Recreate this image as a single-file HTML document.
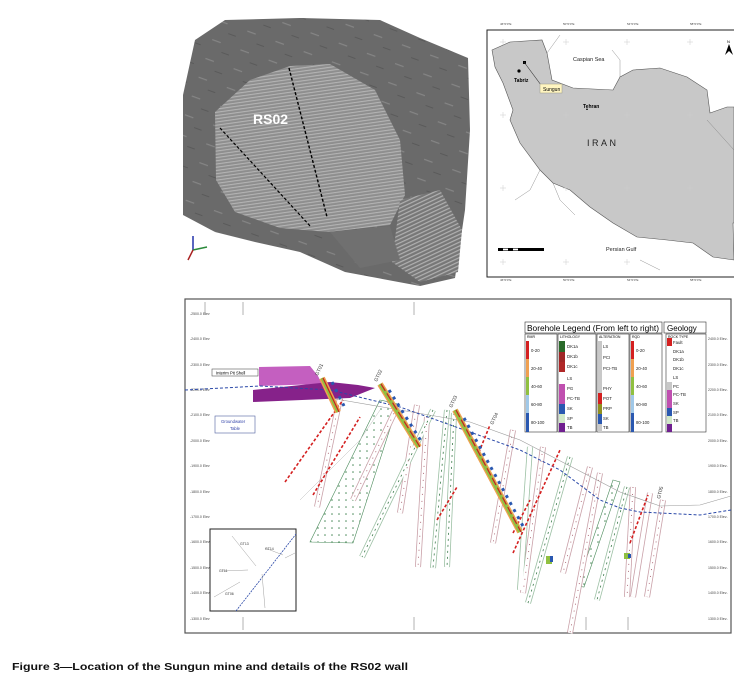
<!DOCTYPE html>
<html><head><meta charset="utf-8"><style>
html,body{margin:0;padding:0;background:#fff;width:734px;height:681px;overflow:hidden}
svg{display:block}
text{font-family:"Liberation Sans",sans-serif}
</style></head><body>
<svg width="734" height="681" viewBox="0 0 734 681" xmlns="http://www.w3.org/2000/svg">
<defs>
<pattern id="str" width="6" height="3.2" patternUnits="userSpaceOnUse" patternTransform="rotate(-8)">
<rect width="6" height="3.2" fill="#8e8e8e"/><rect y="0" width="6" height="1.1" fill="#b4b4b4"/></pattern>
<pattern id="str2" width="6" height="3.5" patternUnits="userSpaceOnUse" patternTransform="rotate(-25)">
<rect width="6" height="3.5" fill="#777"/><rect width="6" height="1.2" fill="#b0b0b0"/></pattern>
<pattern id="dots" width="7" height="7" patternUnits="userSpaceOnUse">
<circle cx="3" cy="3" r="0.8" fill="#4a8a5a"/></pattern>
<pattern id="rough" width="30" height="20" patternUnits="userSpaceOnUse" patternTransform="rotate(20)">
<rect width="30" height="20" fill="#6a6a6a"/><rect x="3" y="4" width="9" height="1.2" fill="#858585"/><rect x="16" y="13" width="8" height="1" fill="#5a5a5a"/></pattern>
</defs>

<!-- 3D pit -->
<polygon points="183,95 195,40 225,20 300,18 380,20 420,38 468,58 470,130 465,210 455,278 420,286 345,272 300,252 255,242 215,232 183,215" fill="url(#rough)"/>
<polygon points="215,112 250,80 290,66 330,64 375,90 400,140 405,195 390,225 328,232 280,228 235,212 216,180" fill="url(#str)"/>
<polygon points="400,200 440,190 462,230 458,272 420,282 392,262" fill="url(#str2)"/>
<polygon points="330,232 390,226 400,260 360,268" fill="#707070"/>
<line x1="289" y1="68" x2="327" y2="217" stroke="#000" stroke-width="1.4" stroke-dasharray="3,2"/>
<line x1="220" y1="128" x2="311" y2="227" stroke="#000" stroke-width="1.2" stroke-dasharray="3,2"/>
<text x="253" y="124" fill="#fff" font-size="14" font-weight="bold">RS02</text>
<line x1="193" y1="250" x2="193" y2="236" stroke="#2233aa" stroke-width="1.5"/>
<line x1="193" y1="250" x2="207" y2="247" stroke="#2a8a3a" stroke-width="1.5"/>
<line x1="193" y1="250" x2="188" y2="260" stroke="#aa2222" stroke-width="1.5"/>

<!-- Map -->
<rect x="487" y="30" width="250" height="247" fill="#fff" stroke="#222" stroke-width="1"/>
<path d="M492,50 L510,42 L542,40 L547,53 L552,80 L573,88 L613,90 L620,77 L633,70 L660,68 L687,77 L707,90 L710,113 L727,107 L734,107 L734,223 L733,223 L734,260 L713,257 L693,243 L667,240 L637,237 L613,223 L590,207 L570,190 L553,183 L540,170 L520,143 L510,120 L513,110 L503,83 L495,67 Z" fill="#c8c8c8" stroke="#555" stroke-width="0.6"/>
<path d="M547,53 L560,35 M620,77 L620,60 L612,50 M707,120 L734,150 M540,170 L530,190 L515,200 M553,183 L560,200 L575,215 M640,260 L660,270" stroke="#777" stroke-width="0.4" fill="none"/>
<g stroke="#ccc" stroke-width="0.5">
<path d="M500,42h6M503,39v6M563,42h6M566,39v6M624,42h6M627,39v6M687,42h6M690,39v6M500,115h6M503,112v6M563,115h6M566,112v6M624,115h6M627,112v6M687,115h6M690,112v6M500,188h6M503,185v6M563,188h6M566,185v6M624,188h6M627,185v6M687,188h6M690,185v6M500,262h6M503,259v6M563,262h6M566,259v6M624,262h6M627,259v6"/></g>
<text x="573" y="61" font-size="5.5" fill="#222">Caspian Sea</text>
<text x="606" y="251" font-size="5.5" fill="#222">Persian Gulf</text>
<text x="587" y="146" font-size="9" fill="#222" letter-spacing="2.5">IRAN</text>
<circle cx="519" cy="71" r="1.6" fill="#000"/>
<text x="514" y="82" font-size="5" font-weight="bold" font-family="Liberation Serif">Tabriz</text>
<text x="583" y="108" font-size="5" font-weight="bold" font-family="Liberation Serif">Tehran</text>
<polygon points="586,110 588,110 587,108" fill="#000"/>
<rect x="523" y="61" width="3" height="3" fill="#000"/>
<line x1="524" y1="62" x2="541" y2="85" stroke="#333" stroke-width="0.6"/>
<rect x="540" y="84" width="22" height="9" fill="#fff5c0" stroke="#998" stroke-width="0.5"/>
<text x="543" y="91" font-size="5">Sungun</text>
<polygon points="725,55 729,44 733,55 729,51" fill="#000"/>
<text x="727" y="43" font-size="4">N</text>
<rect x="498" y="248" width="46" height="3" fill="#000"/>
<rect x="503" y="248.6" width="5" height="1.8" fill="#fff"/><rect x="513" y="248.6" width="5" height="1.8" fill="#fff"/>
<g font-size="3" fill="#444"><text x="500" y="25">46°0'0"E</text><text x="563" y="25">50°0'0"E</text><text x="627" y="25">54°0'0"E</text><text x="690" y="25">58°0'0"E</text>
<text x="500" y="281">46°0'0"E</text><text x="563" y="281">50°0'0"E</text><text x="627" y="281">54°0'0"E</text><text x="690" y="281">58°0'0"E</text></g>

<!-- Section frame -->
<rect x="185" y="299" width="546" height="334" fill="#fff" stroke="#555" stroke-width="1.2"/>
<g font-size="3.5" fill="#444">
<text x="190" y="315">-2500.0 Elev</text><text x="190" y="340">-2400.0 Elev</text><text x="190" y="366">-2300.0 Elev</text><text x="190" y="391">-2200.0 Elev</text><text x="190" y="416">-2100.0 Elev</text><text x="190" y="442">-2000.0 Elev</text><text x="190" y="467">-1900.0 Elev</text><text x="190" y="493">-1800.0 Elev</text><text x="190" y="518">-1700.0 Elev</text><text x="190" y="543">-1600.0 Elev</text><text x="190" y="569">-1500.0 Elev</text><text x="190" y="594">-1400.0 Elev</text><text x="190" y="620">-1300.0 Elev</text>
<text x="708" y="340">2400.0 Elev-</text><text x="708" y="366">2300.0 Elev-</text><text x="708" y="391">2200.0 Elev-</text><text x="708" y="416">2100.0 Elev-</text><text x="708" y="442">2000.0 Elev-</text><text x="708" y="467">1900.0 Elev-</text><text x="708" y="493">1800.0 Elev-</text><text x="708" y="518">1700.0 Elev-</text><text x="708" y="543">1600.0 Elev-</text><text x="708" y="569">1500.0 Elev-</text><text x="708" y="594">1400.0 Elev-</text><text x="708" y="620">1300.0 Elev-</text>
</g>
<g stroke="#666" stroke-width="0.5"><line x1="205" y1="302" x2="205" y2="315"/><line x1="243" y1="302" x2="243" y2="315"/><line x1="414" y1="302" x2="414" y2="315"/><line x1="243" y1="617" x2="243" y2="630"/><line x1="414" y1="617" x2="414" y2="630"/><line x1="586" y1="617" x2="586" y2="630"/><line x1="628" y1="617" x2="628" y2="630"/></g>

<!-- dotted wide zone -->
<polygon points="380,400 398,404 353,543 310,542" fill="url(#dots)" stroke="#4a8a5a" stroke-width="0.6"/>
<polygon points="613,480 620,482 584,587 577,586" fill="url(#dots)" stroke="#4a8a5a" stroke-width="0.6"/>

<!-- boreholes -->
<g fill="none" stroke-linecap="butt">
<g stroke="#c9a0a8" stroke-width="6">
<line x1="340" y1="398" x2="317" y2="507"/><line x1="397" y1="407" x2="353" y2="500"/><line x1="417" y1="405" x2="400" y2="513"/><line x1="427" y1="417" x2="418" y2="567"/><line x1="513" y1="430" x2="493" y2="543"/><line x1="543" y1="447" x2="523" y2="593"/><line x1="590" y1="467" x2="563" y2="573"/><line x1="600" y1="473" x2="570" y2="633"/><line x1="633" y1="487" x2="627" y2="597"/><line x1="663" y1="500" x2="647" y2="597"/><line x1="650" y1="493" x2="633" y2="597"/>
</g>
<g stroke="#9cc0a4" stroke-width="6">
<line x1="433" y1="410" x2="362" y2="557"/><line x1="447" y1="410" x2="433" y2="568"/><line x1="454" y1="413" x2="447" y2="567"/><line x1="530" y1="447" x2="520" y2="590"/><line x1="570" y1="457" x2="528" y2="603"/><line x1="627" y1="487" x2="597" y2="600"/>
</g>
<g stroke="#fff" stroke-width="4.4">
<line x1="340" y1="398" x2="317" y2="507"/><line x1="397" y1="407" x2="353" y2="500"/><line x1="417" y1="405" x2="400" y2="513"/><line x1="427" y1="417" x2="418" y2="567"/><line x1="513" y1="430" x2="493" y2="543"/><line x1="543" y1="447" x2="523" y2="593"/><line x1="590" y1="467" x2="563" y2="573"/><line x1="600" y1="473" x2="570" y2="633"/><line x1="633" y1="487" x2="627" y2="597"/><line x1="663" y1="500" x2="647" y2="597"/><line x1="650" y1="493" x2="633" y2="597"/>
<line x1="433" y1="410" x2="362" y2="557"/><line x1="447" y1="410" x2="433" y2="568"/><line x1="454" y1="413" x2="447" y2="567"/><line x1="530" y1="447" x2="520" y2="590"/><line x1="570" y1="457" x2="528" y2="603"/><line x1="627" y1="487" x2="597" y2="600"/>
</g>
<g stroke="#a05060" stroke-width="0.8" stroke-dasharray="1,6">
<line x1="340" y1="398" x2="317" y2="507"/><line x1="397" y1="407" x2="353" y2="500"/><line x1="417" y1="405" x2="400" y2="513"/><line x1="427" y1="417" x2="418" y2="567"/><line x1="513" y1="430" x2="493" y2="543"/><line x1="543" y1="447" x2="523" y2="593"/><line x1="590" y1="467" x2="563" y2="573"/><line x1="600" y1="473" x2="570" y2="633"/><line x1="633" y1="487" x2="627" y2="597"/><line x1="663" y1="500" x2="647" y2="597"/>
</g>
<g stroke="#3a7a4a" stroke-width="0.8" stroke-dasharray="2,4">
<line x1="433" y1="410" x2="362" y2="557"/><line x1="447" y1="410" x2="433" y2="568"/><line x1="454" y1="413" x2="447" y2="567"/><line x1="570" y1="457" x2="528" y2="603"/><line x1="627" y1="487" x2="597" y2="600"/>
</g>
</g>

<!-- terrain -->
<polyline points="330,398 400,410 470,422 520,440 570,466 620,492 660,506 700,505 731,496" fill="none" stroke="#999" stroke-width="0.6"/>
<polyline points="380,410 360,440 330,470 300,500" fill="none" stroke="#bbb" stroke-width="0.5"/>

<!-- pit shell -->
<polygon points="259,367 310,366 318,376 322,384 259,386" fill="#c45fc0"/>
<polygon points="253,390 330,382 358,385 375,388 350,398 253,402" fill="#86228a"/>
<rect x="212" y="369" width="46" height="7" fill="#fff" stroke="#555" stroke-width="0.6"/>
<text x="216" y="374.5" font-size="4.2">Interim Pit Shell</text>
<rect x="215" y="416" width="40" height="17" fill="#fff" stroke="#5060a0" stroke-width="0.6"/>
<text x="221" y="423" font-size="4.2" fill="#3344aa">Groundwater</text>
<text x="230" y="430" font-size="4.2" fill="#3344aa">Table</text>

<!-- groundwater -->
<polyline points="185,390 260,386 330,390 400,407 470,432 520,450 560,470 600,500 620,508 640,512 700,515 731,510" fill="none" stroke="#2a48a8" stroke-width="1" stroke-dasharray="3,2"/>

<!-- red dashed -->
<g stroke="#d42020" stroke-width="1.6" stroke-dasharray="3,2">
<line x1="285" y1="482" x2="343" y2="400"/><line x1="313" y1="495" x2="360" y2="417"/><line x1="437" y1="520" x2="457" y2="487"/><line x1="513" y1="553" x2="560" y2="450"/><line x1="630" y1="543" x2="648" y2="495"/><line x1="477" y1="457" x2="490" y2="425"/><line x1="513" y1="533" x2="530" y2="500"/>
</g>

<!-- colored boreholes -->
<g stroke-linecap="butt">
<line x1="322" y1="378" x2="338" y2="412" stroke="#f0a050" stroke-width="6"/>
<line x1="322" y1="378" x2="338" y2="412" stroke="#90c040" stroke-width="3"/>
<line x1="323" y1="378" x2="339" y2="412" stroke="#c82020" stroke-width="1.2"/>
<line x1="380" y1="384" x2="419" y2="447" stroke="#f0a050" stroke-width="6"/>
<line x1="380" y1="384" x2="419" y2="447" stroke="#90c040" stroke-width="3.5"/>
<line x1="381" y1="384" x2="420" y2="447" stroke="#c82020" stroke-width="1.2" stroke-dasharray="8,3"/>
<line x1="455" y1="410" x2="520" y2="532" stroke="#f0a050" stroke-width="6"/>
<line x1="455" y1="410" x2="520" y2="532" stroke="#90c040" stroke-width="3.5"/>
<line x1="456" y1="410" x2="521" y2="532" stroke="#c82020" stroke-width="1.2" stroke-dasharray="8,3"/>
<g stroke="#2a58b0" stroke-width="3" stroke-dasharray="3,5">
<line x1="332" y1="382" x2="344" y2="406"/><line x1="389" y1="390" x2="421" y2="441"/><line x1="464" y1="418" x2="524" y2="528"/></g>
<rect x="546" y="556" width="6" height="8" fill="#90c040"/><rect x="550" y="556" width="3" height="6" fill="#2a58b0"/>
<rect x="624" y="553" width="6" height="6" fill="#90c040"/><rect x="628" y="554" width="3" height="4" fill="#2a58b0"/>
</g>
<g font-size="5" fill="#333">
<text transform="translate(318,376) rotate(-65)">GT01</text>
<text transform="translate(377,382) rotate(-65)">GT02</text>
<text transform="translate(452,408) rotate(-65)">GT03</text>
<text transform="translate(493,425) rotate(-65)">GT04</text>
<text transform="translate(660,499) rotate(-75)">GT05</text>
</g>

<!-- legend -->
<rect x="525" y="322" width="182" height="112" fill="#fff"/>
<g stroke="#333" stroke-width="0.6" fill="none">
<rect x="525" y="322" width="137" height="11"/><rect x="664" y="322" width="42" height="11"/>
<rect x="525" y="334" width="32" height="98"/><rect x="558" y="334" width="38" height="98"/><rect x="597" y="334" width="32" height="98"/><rect x="630" y="334" width="32" height="98"/><rect x="666" y="334" width="40" height="98"/>
</g>
<text x="527" y="331" font-size="8" textLength="132" lengthAdjust="spacingAndGlyphs">Borehole Legend (From left to right)</text>
<text x="667" y="331" font-size="8">Geology</text>
<g font-size="3.5"><text x="527" y="338">RMR</text><text x="560" y="338">LITHOLOGY</text><text x="599" y="338">ALTERATION</text><text x="632" y="338">RQD</text><text x="668" y="338">ROCK TYPE</text></g>
<g>
<rect x="526" y="341" width="3" height="18" fill="#d42020"/><rect x="526" y="359" width="3" height="18" fill="#f0a050"/><rect x="526" y="377" width="3" height="18" fill="#90c040"/><rect x="526" y="395" width="3" height="18" fill="#a0c8e8"/><rect x="526" y="413" width="3" height="19" fill="#2a58b0"/>
<rect x="631" y="341" width="3" height="18" fill="#d42020"/><rect x="631" y="359" width="3" height="18" fill="#f0a050"/><rect x="631" y="377" width="3" height="18" fill="#90c040"/><rect x="631" y="395" width="3" height="18" fill="#a0c8e8"/><rect x="631" y="413" width="3" height="19" fill="#2a58b0"/>
<rect x="559" y="341" width="6" height="11" fill="#2a6a2a"/><rect x="559" y="352" width="6" height="10" fill="#a02828"/><rect x="559" y="362" width="6" height="10" fill="#b02828"/><rect x="559" y="384" width="6" height="10" fill="#c050b0"/><rect x="559" y="394" width="6" height="10" fill="#c050b0"/><rect x="559" y="404" width="6" height="10" fill="#2a58b0"/><rect x="559" y="414" width="6" height="9" fill="#d0e8c8"/><rect x="559" y="423" width="6" height="9" fill="#702090"/>
<rect x="598" y="341" width="4" height="91" fill="#c8c8c8"/><rect x="598" y="393" width="4" height="11" fill="#d42020"/><rect x="598" y="404" width="4" height="10" fill="#909020"/><rect x="598" y="414" width="4" height="10" fill="#2a58b0"/>
<rect x="667" y="338" width="5" height="8" fill="#d42020"/><rect x="667" y="382" width="5" height="8" fill="#c8c8c8"/><rect x="667" y="390" width="5" height="9" fill="#c050b0"/><rect x="667" y="399" width="5" height="9" fill="#c050b0"/><rect x="667" y="408" width="5" height="8" fill="#2a58b0"/><rect x="667" y="416" width="5" height="8" fill="#d0e8c8"/><rect x="667" y="424" width="5" height="8" fill="#702090"/>
</g>
<g font-size="4.3" fill="#222">
<text x="531" y="352">0-20</text><text x="531" y="370">20-40</text><text x="531" y="388">40-60</text><text x="531" y="406">60-80</text><text x="531" y="424">80-100</text>
<text x="636" y="352">0-20</text><text x="636" y="370">20-40</text><text x="636" y="388">40-60</text><text x="636" y="406">60-80</text><text x="636" y="424">80-100</text>
<text x="567" y="348">DK1a</text><text x="567" y="358">DK1b</text><text x="567" y="368">DK1c</text><text x="567" y="380">LS</text><text x="567" y="390">PG</text><text x="567" y="400">PC-TB</text><text x="567" y="410">SK</text><text x="567" y="420">SP</text><text x="567" y="429">TB</text>
<text x="603" y="348">LS</text><text x="603" y="359">PCI</text><text x="603" y="370">PCI-TB</text><text x="603" y="390">PHY</text><text x="603" y="400">POT</text><text x="603" y="410">PRP</text><text x="603" y="420">SK</text><text x="603" y="429">TB</text>
<text x="673" y="344">Fault</text><text x="673" y="353">DK1a</text><text x="673" y="361">DK1b</text><text x="673" y="370">DK1c</text><text x="673" y="379">LS</text><text x="673" y="388">PC</text><text x="673" y="396">PC-TB</text><text x="673" y="405">SK</text><text x="673" y="414">SP</text><text x="673" y="422">TB</text>
</g>

<!-- inset -->
<rect x="210" y="529" width="86" height="82" fill="#fff" stroke="#222" stroke-width="1"/>
<line x1="236" y1="611" x2="296" y2="534" stroke="#2a48a8" stroke-width="0.8" stroke-dasharray="2,1"/>
<g stroke="#888" stroke-width="0.4">
<line x1="232" y1="536" x2="256" y2="566"/><line x1="222" y1="571" x2="248" y2="570"/><line x1="214" y1="597" x2="240" y2="582"/><line x1="265" y1="548" x2="283" y2="555"/><line x1="285" y1="558" x2="295" y2="553"/><line x1="262" y1="574" x2="265" y2="608"/></g>
<g font-size="3.5" fill="#333"><text x="219" y="572">GT11</text><text x="265" y="550">GT14</text><text x="240" y="545">GT13</text><text x="225" y="595">GT06</text></g>

<!-- caption -->
<text x="12" y="670" font-size="10.5" font-weight="bold" textLength="396" lengthAdjust="spacingAndGlyphs" fill="#111">Figure 3—Location of the Sungun mine and details of the RS02 wall</text>
</svg>
</body></html>
